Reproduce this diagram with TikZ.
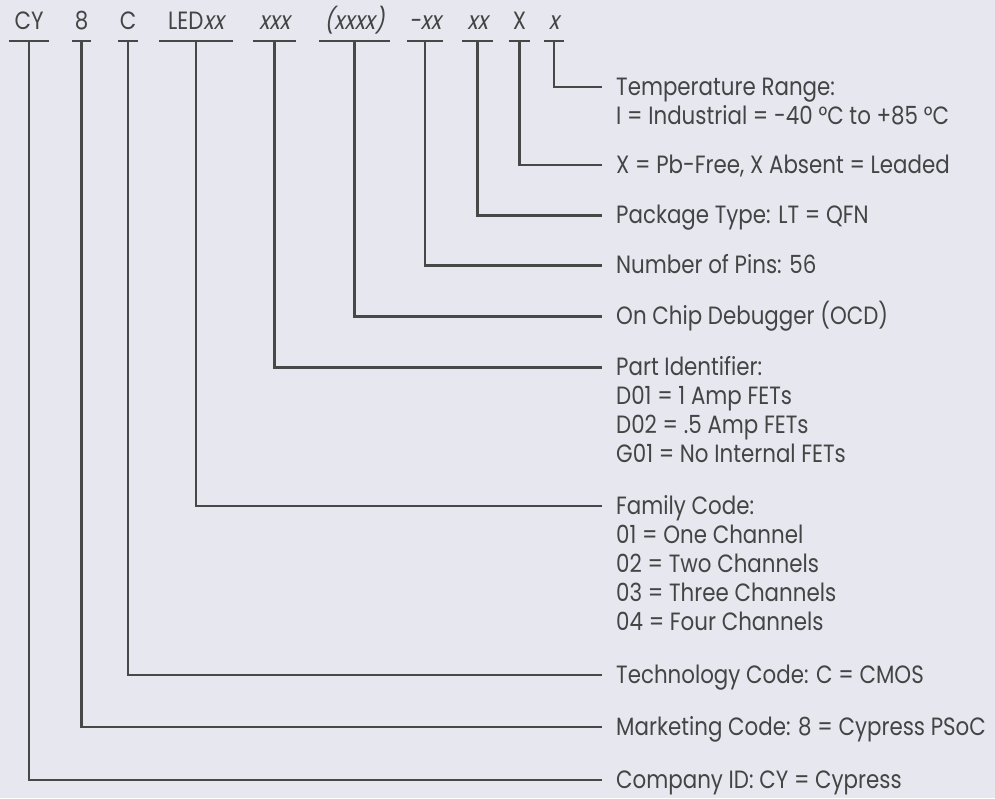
\documentclass[tikz,border=0pt]{standalone}
\usepackage{fontspec}
\setmainfont{Poppins}[FakeStretch=0.855]
\newfontfamily\slantfont{Poppins}[FakeStretch=0.855,FakeSlant=0.2]
\usetikzlibrary{positioning}
\definecolor{PanelBg}{RGB}{230,231,239}
\definecolor{LineGray}{RGB}{72,72,72}
\definecolor{TextGray}{RGB}{68,68,68}
\newcommand{\labelsize}{\fontsize{25}{29}\selectfont}
\newcommand{\vx}[1]{{\slantfont #1}}

\begin{document}
\begin{tikzpicture}[x=1pt,y=-1pt,
  every node/.style={text=TextGray,font=\labelsize},
  code/.style={anchor=south,inner sep=0pt,text height=18pt,text depth=11pt},
  desc/.style={anchor=west,inner xsep=14pt,inner ysep=0pt,text height=16pt,text depth=0pt},
  sub/.style={anchor=base west,inner xsep=14pt,inner ysep=0pt},
  lead/.style={LineGray,line width=2.2pt}]
  \useasboundingbox (0,0) rectangle (995,798);
  \fill[PanelBg] (0,0) rectangle (995,798);

  % part number fields
  \node[code,minimum width=39pt] (codeCo) at (29,41) {CY};
  \node[code,minimum width=19pt] (codeMkt) at (81.5,41) {8};
  \node[code,minimum width=20pt] (codeTech) at (128,41) {C};
  \node[code,minimum width=74pt] (codeFam) at (196,41) {LED\vx{xx}};
  \node[code,minimum width=43pt] (codePart) at (274.5,41) {\vx{xxx}};
  \node[code,minimum width=71pt] (codeOcd) at (354.5,41) {\vx{(xxxx)}};
  \node[code,minimum width=36pt] (codePins) at (425,41) {\vx{-xx}};
  \node[code,minimum width=31pt] (codePkg) at (477.5,41) {\vx{xx}};
  \node[code,minimum width=21pt] (codePb) at (519.5,41) {X};
  \node[code,minimum width=20pt] (codeTemp) at (554,41) {\vx{x}};

  % descriptions
  \node[desc] (temp) at (602,87) {Temperature Range:};
  \node[sub] (tempList) at ([yshift=-29pt]temp.base west)
    {\begin{tabular}[t]{@{}l@{}}I = Industrial = -40 °C to +85 °C\end{tabular}};
  \node[desc] (pb) at (602,165) {X = Pb-Free, X Absent = Leaded};
  \node[desc] (pkg) at (602,215.5) {Package Type: LT = QFN};
  \node[desc] (pins) at (602,265.5) {Number of Pins: 56};
  \node[desc] (ocd) at (602,316.5) {On Chip Debugger (OCD)};
  \node[desc] (part) at (602,367.5) {Part Identifier:};
  \node[sub] (partList) at ([yshift=-29pt]part.base west)
    {\begin{tabular}[t]{@{}l@{}}D01 = 1 Amp FETs\\D02 = .5 Amp FETs\\G01 = No Internal FETs\end{tabular}};
  \node[desc] (fam) at (602,506) {Family Code:};
  \node[sub] (famList) at ([yshift=-29pt]fam.base west)
    {\begin{tabular}[t]{@{}l@{}}01 = One Channel\\02 = Two Channels\\03 = Three Channels\\04 = Four Channels\end{tabular}};
  \node[desc] (tech) at (602,675) {Technology Code: C = CMOS};
  \node[desc] (mkt) at (602,727) {Marketing Code: 8 = Cypress PSoC};
  \node[desc] (co) at (602,780) {Company ID: CY = Cypress};

  % underlines and leaders
  \foreach \n/\d in {Co/co,Mkt/mkt,Tech/tech,Fam/fam,Part/part,Ocd/ocd,Pins/pins,Pkg/pkg,Pb/pb,Temp/temp} {
    \draw[lead,line width=2.6pt] (code\n.south west) -- (code\n.south east);
    \draw[lead] (code\n.south) |- (\d.west);
  }
\end{tikzpicture}
\end{document}
